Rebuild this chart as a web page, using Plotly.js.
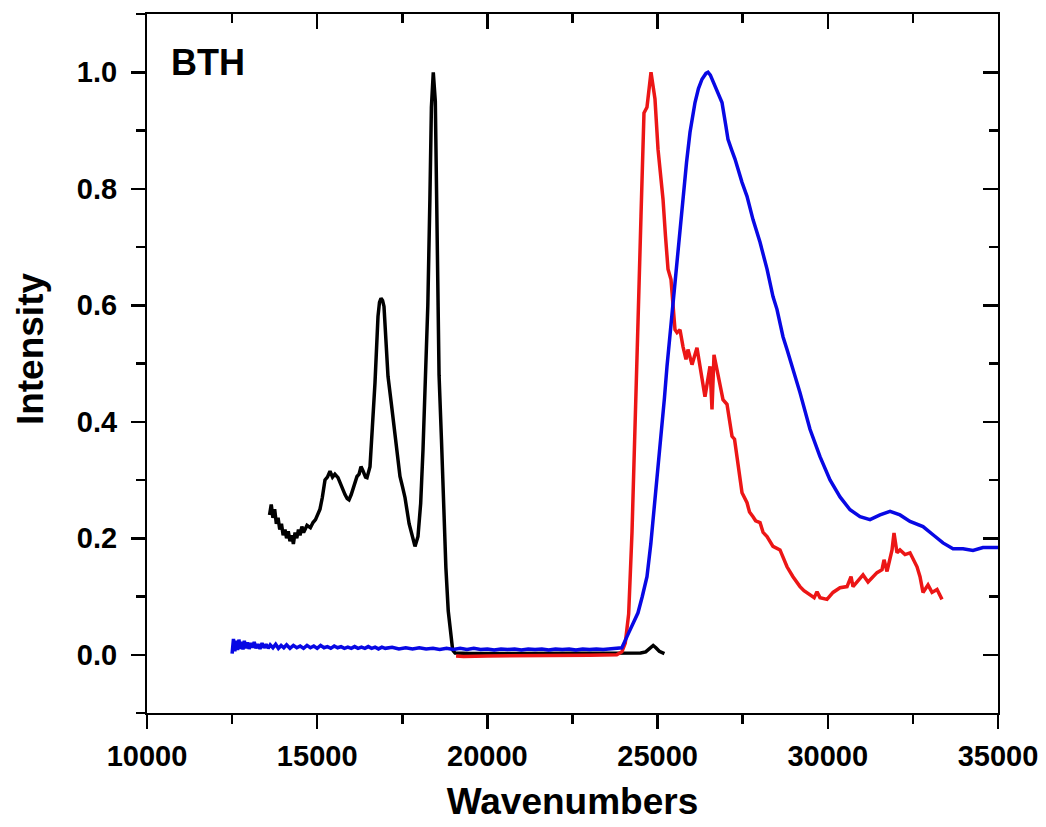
<!DOCTYPE html>
<html>
<head>
<meta charset="utf-8">
<script src="https://cdn.plot.ly/plotly-3.0.1.min.js"></script>
<style>html,body{margin:0;padding:0;background:#fff}#chart{width:1046px;height:827px}</style>
</head>
<body>
<div id="chart"></div>
<script>
// Black curve (excitation)
var blackX = [13600,13650,13700,13750,13800,13850,13900,13950,14000,14054,14100,14150,14200,14260,14300,14350,14400,14450,14495,14550,14600,14700,14800,14877,14950,15000,15082,15150,15229,15300,15376,15450,15520,15611,15700,15817,15880,15934,16000,16100,16169,16230,16287,16350,16420,16463,16551,16620,16698,16786,16830,16874,16920,16962,17020,17080,17180,17285,17432,17500,17579,17700,17800,17873,17961,18040,18108,18180,18250,18310,18355,18410,18470,18510,18545,18580,18650,18700,18780,18850,18920,18980,19050,19500,20500,21500,22500,23500,24000,24500,24650,24780,24870,24950,25050,25200];
var blackY = [0.24,0.258,0.235,0.25,0.225,0.235,0.215,0.225,0.205,0.215,0.2,0.212,0.195,0.205,0.19,0.21,0.2,0.215,0.205,0.22,0.21,0.222,0.218,0.227,0.232,0.24,0.25,0.27,0.30,0.305,0.315,0.305,0.31,0.304,0.29,0.275,0.268,0.266,0.275,0.295,0.306,0.31,0.323,0.315,0.305,0.304,0.323,0.39,0.467,0.581,0.605,0.612,0.608,0.598,0.54,0.478,0.43,0.375,0.306,0.29,0.27,0.225,0.2,0.186,0.203,0.26,0.352,0.46,0.6,0.78,0.94,1.0,0.95,0.78,0.62,0.48,0.37,0.28,0.15,0.075,0.03,0.008,0.003,0.002,0.002,0.002,0.002,0.002,0.002,0.003,0.005,0.012,0.016,0.012,0.006,0.002];

// Red curve
var redX = [19080,19300,20000,21000,22000,23000,23800,23950,24050,24150,24248,24336,24424,24512,24560,24600,24688,24750,24806,24870,24923,25012,25090,25159,25230,25306,25394,25450,25511,25570,25658,25746,25834,25893,26011,26157,26245,26392,26539,26598,26657,26774,26921,27039,27186,27260,27333,27480,27627,27700,27803,27880,28009,28100,28215,28390,28596,28700,28802,28977,29183,29300,29477,29600,29683,29771,29977,30153,30359,30565,30682,30741,31035,31182,31446,31593,31652,31740,31887,31945,32033,32121,32268,32415,32621,32709,32797,32944,33062,33209,33355];
var redY = [-0.002,-0.003,-0.002,-0.002,-0.001,-0.001,0.0,0.005,0.02,0.07,0.21,0.42,0.57,0.753,0.85,0.93,0.94,0.97,1.0,0.975,0.954,0.868,0.82,0.782,0.72,0.662,0.644,0.60,0.558,0.553,0.558,0.529,0.507,0.524,0.498,0.527,0.495,0.443,0.495,0.421,0.515,0.478,0.438,0.43,0.375,0.37,0.34,0.278,0.261,0.245,0.237,0.23,0.227,0.21,0.203,0.186,0.18,0.165,0.151,0.134,0.117,0.11,0.103,0.098,0.108,0.098,0.095,0.107,0.115,0.117,0.134,0.117,0.137,0.125,0.141,0.146,0.163,0.143,0.18,0.209,0.175,0.18,0.172,0.175,0.151,0.134,0.107,0.12,0.107,0.112,0.095];

// Blue curve
var blueX = [12500,12540,12580,12620,12660,12700,12740,12780,12820,12860,12900,12950,13000,13050,13100,13150,13200,13260,13320,13380,13440,13500,13560,13620,13700,13780,13860,13940,14020,14100,14200,14300,14400,14500,14600,14700,14800,14900,15000,15100,15200,15300,15400,15500,15600,15700,15800,15900,16000,16100,16200,16300,16400,16500,16600,16700,16800,16900,17000,17200,17400,17600,17800,18000,18200,18400,18600,18800,19000,19200,19400,19600,19800,20000,20200,20400,20600,20800,21000,21200,21400,21600,21800,22000,22200,22400,22600,22800,23000,23200,23400,23600,23800,23950,24130,24300,24424,24550,24688,24800,24923,25030,25129,25200,25276,25350,25423,25500,25570,25650,25746,25850,25952,26099,26200,26304,26420,26481,26550,26628,26750,26892,27000,27068,27180,27274,27480,27627,27803,28009,28215,28390,28507,28596,28684,28802,28977,29183,29477,29771,30065,30359,30653,30947,31240,31534,31828,32121,32415,32797,33091,33384,33678,33972,34265,34400,34559,34970,35000];
var blueY = [0.002,0.027,0.006,0.024,0.008,0.026,0.01,0.022,0.009,0.024,0.011,0.021,0.01,0.02,0.012,0.022,0.011,0.018,0.01,0.02,0.012,0.018,0.011,0.017,0.012,0.018,0.011,0.016,0.012,0.017,0.011,0.016,0.012,0.015,0.011,0.016,0.012,0.015,0.011,0.016,0.012,0.014,0.011,0.015,0.012,0.014,0.011,0.013,0.011,0.014,0.011,0.013,0.011,0.014,0.011,0.013,0.010,0.013,0.011,0.013,0.010,0.012,0.010,0.012,0.010,0.011,0.009,0.011,0.009,0.011,0.009,0.011,0.009,0.010,0.008,0.010,0.009,0.010,0.008,0.010,0.009,0.010,0.008,0.010,0.009,0.010,0.008,0.010,0.009,0.010,0.009,0.010,0.010,0.012,0.035,0.055,0.072,0.1,0.134,0.19,0.266,0.33,0.381,0.44,0.495,0.54,0.581,0.63,0.684,0.73,0.782,0.845,0.897,0.948,0.972,0.988,0.998,1.0,0.995,0.985,0.968,0.948,0.91,0.885,0.866,0.851,0.811,0.787,0.747,0.708,0.662,0.615,0.593,0.57,0.546,0.524,0.49,0.45,0.387,0.34,0.30,0.271,0.249,0.237,0.232,0.24,0.246,0.24,0.229,0.22,0.206,0.192,0.182,0.182,0.179,0.182,0.184,0.184,0.184];

var panelLabel = 'BTH';
var xTitle = 'Wavenumbers';
var yTitle = 'Intensity';

var FONT = 'Liberation Sans, Arial, sans-serif';
var lw = 3.5;

var traces = [
  {x: blackX, y: blackY, type: 'scatter', mode: 'lines', line: {color: '#000000', width: lw}, hoverinfo: 'skip'},
  {x: redX, y: redY, type: 'scatter', mode: 'lines', line: {color: 'rgb(236,22,22)', width: lw}, hoverinfo: 'skip'},
  {x: blueX, y: blueY, type: 'scatter', mode: 'lines', line: {color: 'rgb(8,8,228)', width: lw}, hoverinfo: 'skip'},
  {x: [], y: [], xaxis: 'x2', yaxis: 'y2', type: 'scatter', mode: 'lines', showlegend: false, hoverinfo: 'skip'}
];

var tickFont = {family: FONT, size: 29, color: '#000', weight: 'bold'};

var layout = {
  width: 1046, height: 827,
  margin: {l: 147, r: 48, t: 14, b: 114},
  paper_bgcolor: '#fff', plot_bgcolor: '#fff',
  showlegend: false,
  font: {family: FONT, color: '#000'},
  xaxis: {
    range: [10000, 35000], tick0: 10000, dtick: 5000, tickformat: 'd',
    ticks: 'outside', ticklen: 14, tickwidth: 2.5, tickcolor: '#000',
    minor: {dtick: 2500, ticks: 'outside', ticklen: 9, tickwidth: 2.5, tickcolor: '#000'},
    showline: true, linewidth: 2, linecolor: '#000',
    showgrid: false, zeroline: false,
    tickfont: tickFont, ticklabelstandoff: 2,
    title: {text: '<b>' + xTitle + '</b>', font: {family: FONT, size: 37, color: '#000'}, standoff: 17}
  },
  yaxis: {
    range: [-0.1, 1.1], tick0: 0, dtick: 0.2, tickformat: '.1f',
    ticks: 'outside', ticklen: 14, tickwidth: 2.5, tickcolor: '#000',
    minor: {dtick: 0.1, ticks: 'outside', ticklen: 9, tickwidth: 2.5, tickcolor: '#000'},
    showline: true, linewidth: 2, linecolor: '#000',
    showgrid: false, zeroline: false,
    tickfont: tickFont, ticklabelstandoff: 8
  },
  xaxis2: {
    overlaying: 'x', side: 'top', anchor: 'y2',
    range: [10000, 35000], tick0: 10000, dtick: 5000,
    ticks: 'inside', ticklen: 15, tickwidth: 2.5, tickcolor: '#000',
    minor: {dtick: 2500, ticks: 'inside', ticklen: 9, tickwidth: 2.5, tickcolor: '#000'},
    showline: true, linewidth: 2, linecolor: '#000',
    showgrid: false, zeroline: false, showticklabels: false
  },
  yaxis2: {
    overlaying: 'y', side: 'right', anchor: 'x2',
    range: [-0.1, 1.1], tick0: 0, dtick: 0.2,
    ticks: 'inside', ticklen: 15, tickwidth: 2.5, tickcolor: '#000',
    minor: {dtick: 0.1, ticks: 'inside', ticklen: 9, tickwidth: 2.5, tickcolor: '#000'},
    showline: true, linewidth: 2, linecolor: '#000',
    showgrid: false, zeroline: false, showticklabels: false
  },
  annotations: [{
    text: '<b>' + panelLabel + '</b>', xref: 'paper', yref: 'paper',
    x: 0.026, y: 0.93, xanchor: 'left', yanchor: 'middle', showarrow: false,
    font: {family: FONT, size: 36, color: '#000'}
  }, {
    text: '<b>' + yTitle + '</b>', xref: 'paper', yref: 'paper',
    x: -0.1375, y: 0.522, xanchor: 'center', yanchor: 'middle', textangle: -90, showarrow: false,
    font: {family: FONT, size: 37, color: '#000'}
  }]
};

Plotly.newPlot('chart', traces, layout, {displayModeBar: false, staticPlot: true});
</script>
</body>
</html>
